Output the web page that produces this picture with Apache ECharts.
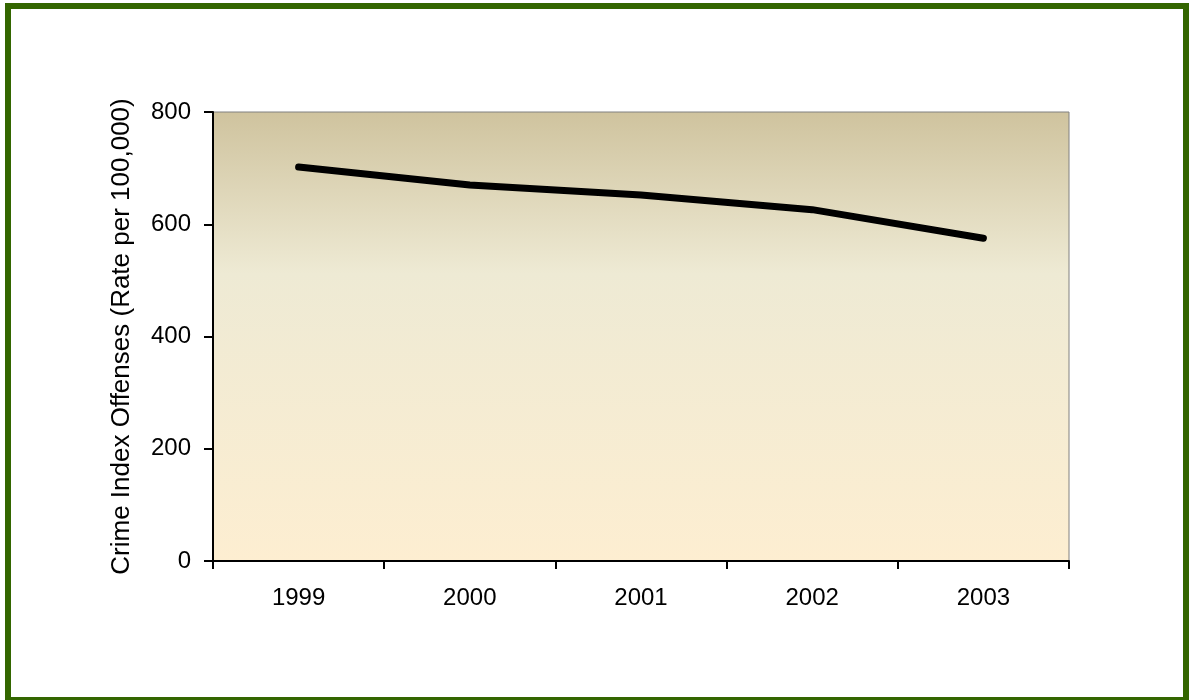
<!DOCTYPE html>
<html>
<head>
<meta charset="utf-8">
<script src="https://cdn.jsdelivr.net/npm/echarts@6/dist/echarts.min.js"></script>
<style>
html,body{margin:0;padding:0;background:#fff;}
#chart{width:1189px;height:700px;}
</style>
</head>
<body>
<div id="chart"></div>
<script>
const years = ['1999', '2000', '2001', '2002', '2003'];
const rates = [702, 670, 652, 626, 575];
const yTicks = { min: 0, max: 800, interval: 200 };
const yTitle = 'Crime Index Offenses (Rate per 100,000)';

const chart = echarts.init(document.getElementById('chart'));
const font = 'Liberation Sans, Arial, sans-serif';
chart.setOption({
  animation: false,
  backgroundColor: '#ffffff',
  graphic: [{
    type: 'rect',
    shape: { x: 8, y: 6, width: 1178, height: 694 },
    style: { fill: 'none', stroke: '#336600', lineWidth: 6 },
    silent: true
  }],
  grid: {
    left: 213, top: 112, right: 120, bottom: 139,
    show: true,
    borderColor: '#808080',
    borderWidth: 1,
    backgroundColor: new echarts.graphic.LinearGradient(0, 0, 0, 1, [
      { offset: 0, color: '#cfc39e' },
      { offset: 0.36, color: '#eeead4' },
      { offset: 1, color: '#fdeed1' }
    ])
  },
  xAxis: {
    type: 'category',
    data: years,
    boundaryGap: true,
    axisLine: { lineStyle: { color: '#000', width: 2 } },
    axisTick: { show: true, length: 8, alignWithLabel: false, lineStyle: { color: '#000', width: 2 } },
    axisLabel: { color: '#000', fontFamily: font, fontSize: 24, margin: 25 },
    splitLine: { show: false }
  },
  yAxis: {
    type: 'value',
    min: yTicks.min, max: yTicks.max, interval: yTicks.interval,
    name: yTitle,
    nameLocation: 'middle',
    nameGap: 78,
    nameTextStyle: { color: '#000', fontFamily: font, fontSize: 26 },
    axisLine: { show: true, lineStyle: { color: '#000', width: 2 } },
    axisTick: { show: true, length: 9, lineStyle: { color: '#000', width: 2 } },
    axisLabel: { color: '#000', fontFamily: font, fontSize: 24, margin: 22 },
    splitLine: { show: false }
  },
  series: [{
    type: 'line',
    data: rates,
    symbol: 'none',
    lineStyle: { color: '#000', width: 7, cap: 'round', join: 'round' }
  }]
});
</script>
</body>
</html>
